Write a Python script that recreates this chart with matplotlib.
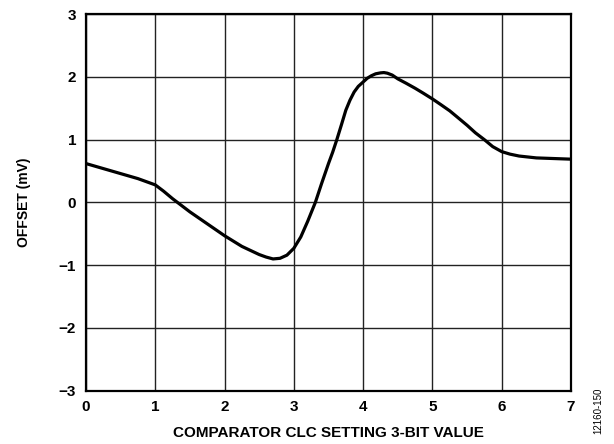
import matplotlib
matplotlib.use('Agg')
import matplotlib.pyplot as plt

# values
clc_setting = [0, 0.25, 0.5, 0.75, 1, 1.12, 1.25, 1.5, 1.75, 2, 2.25, 2.5,
               2.6, 2.7, 2.8, 2.9, 3, 3.1, 3.2, 3.31, 3.4, 3.5, 3.56, 3.62,
               3.69, 3.75, 3.81, 3.87, 3.93, 4, 4.06, 4.12, 4.18, 4.25, 4.3,
               4.35, 4.42, 4.5, 4.62, 4.75, 4.87, 5, 5.12, 5.25, 5.37, 5.5,
               5.62, 5.75, 5.87, 6, 6.12, 6.25, 6.5, 6.75, 7]
offset_mv = [0.62, 0.54, 0.46, 0.38, 0.28, 0.18, 0.06, -0.15, -0.34, -0.53,
             -0.70, -0.83, -0.87, -0.90, -0.89, -0.84, -0.73, -0.55, -0.30,
             0.0, 0.30, 0.62, 0.80, 1.0, 1.25, 1.47, 1.63, 1.76, 1.85, 1.92,
             1.98, 2.02, 2.05, 2.065, 2.07, 2.06, 2.03, 1.97, 1.90, 1.82,
             1.74, 1.65, 1.56, 1.46, 1.35, 1.23, 1.11, 1.0, 0.89, 0.81, 0.77,
             0.74, 0.71, 0.70, 0.69]
x_ticks = [0, 1, 2, 3, 4, 5, 6, 7]
y_ticks = [-3, -2, -1, 0, 1, 2, 3]
y_ticklabels = ['\u22123', '\u22122', '\u22121', '0', '1', '2', '3']

plt.rcParams['font.family'] = ['Liberation Sans', 'DejaVu Sans']

fig = plt.figure(figsize=(6.14, 4.44), dpi=100)
ax = fig.add_axes([0.140, 0.120, 0.790, 0.848])

ax.plot(clc_setting, offset_mv, color='black', linewidth=2.3,
        solid_capstyle='round', solid_joinstyle='round', zorder=3)

ax.set_xlim(0, 7)
ax.set_ylim(-3, 3)
ax.set_xticks(x_ticks)
ax.set_yticks(y_ticks)
ax.set_yticklabels(y_ticklabels)
ax.grid(True, color='#222222', linewidth=1.0)
ax.tick_params(length=0, labelsize=11)
ax.tick_params(axis='x', pad=7)
ax.tick_params(axis='y', pad=7)
for lbl in ax.get_xticklabels() + ax.get_yticklabels():
    lbl.set_fontweight('bold')
for s in ax.spines.values():
    s.set_linewidth(1.6)

ax.set_xlabel('COMPARATOR CLC SETTING 3-BIT VALUE', fontsize=11,
              fontweight='bold', labelpad=8)
ax.set_ylabel('OFFSET (mV)', fontsize=10, fontweight='bold', labelpad=20)

fig.text(0.974, 0.074, '12160-150', rotation=90, fontsize=7,
         ha='center', va='center')

fig.savefig('out.png', dpi=100)
